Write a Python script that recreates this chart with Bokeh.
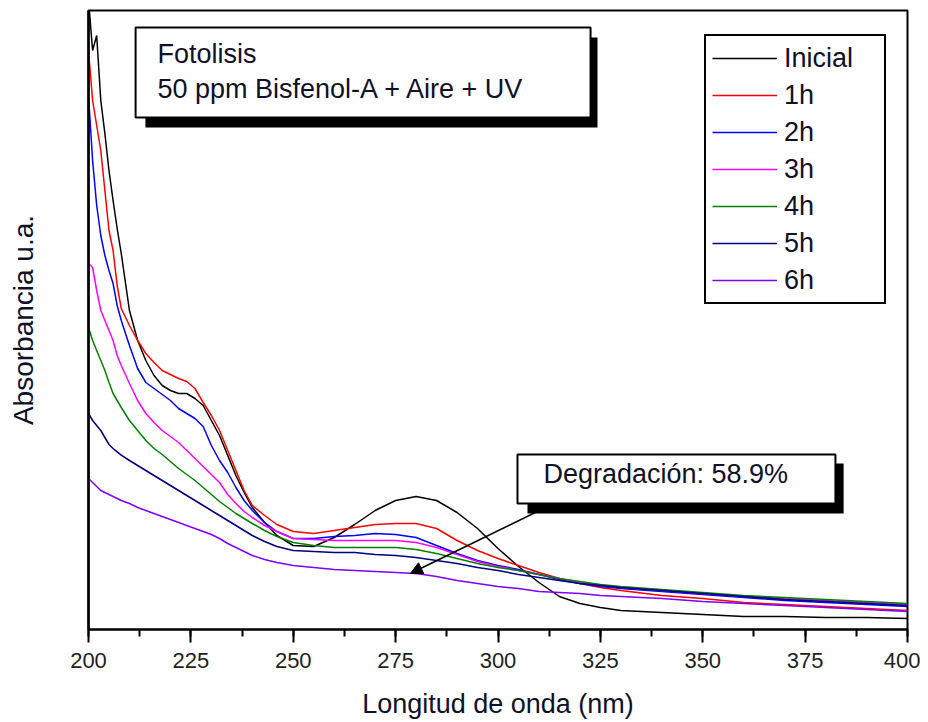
from bokeh.plotting import figure
from bokeh.models import (Legend, LegendItem, Label, BoxAnnotation, Arrow, NormalHead,
                          SingleIntervalTicker, FixedTicker, Range1d)
from bokeh.embed import file_html
from bokeh.resources import INLINE

# ---------------- data ----------------
wavelength = [200, 201, 202, 203, 204, 205, 206, 207, 208, 210, 212, 214, 216, 218, 220,
              222, 224, 226, 228, 230, 232, 234, 236, 238, 240, 243, 246, 250, 255, 260,
              265, 270, 275, 280, 285, 290, 295, 300, 305, 310, 315, 320, 325, 330, 340,
              350, 360, 370, 380, 390, 400]

inicial = [3.150, 2.895, 2.970, 2.645, 2.480, 2.295, 2.145, 2.005, 1.880, 1.595, 1.445, 1.345,
           1.270, 1.220, 1.195, 1.180, 1.180, 1.155, 1.120, 1.045, 0.970, 0.870, 0.770, 0.685,
           0.610, 0.535, 0.470, 0.420, 0.415, 0.460, 0.525, 0.595, 0.645, 0.665, 0.645, 0.585,
           0.505, 0.405, 0.315, 0.235, 0.165, 0.130, 0.110, 0.095, 0.085, 0.075, 0.065, 0.065,
           0.060, 0.060, 0.055]
h1 = [2.895, 2.645, 2.520, 2.395, 2.195, 1.995, 1.895, 1.720, 1.605, 1.520, 1.445, 1.380,
      1.335, 1.295, 1.275, 1.255, 1.240, 1.205, 1.135, 1.070, 0.995, 0.895, 0.795, 0.695,
      0.620, 0.570, 0.525, 0.490, 0.480, 0.495, 0.510, 0.525, 0.530, 0.530, 0.505, 0.445,
      0.395, 0.355, 0.320, 0.285, 0.255, 0.230, 0.210, 0.195, 0.170, 0.155, 0.135, 0.125,
      0.115, 0.105, 0.095]
h2 = [2.670, 2.345, 2.120, 1.970, 1.870, 1.795, 1.730, 1.620, 1.545, 1.420, 1.305, 1.235,
      1.205, 1.175, 1.145, 1.105, 1.080, 1.055, 1.015, 0.920, 0.845, 0.785, 0.710, 0.645,
      0.595, 0.535, 0.490, 0.455, 0.455, 0.465, 0.470, 0.480, 0.475, 0.460, 0.420, 0.380,
      0.345, 0.320, 0.300, 0.275, 0.250, 0.230, 0.215, 0.205, 0.190, 0.175, 0.160, 0.145,
      0.135, 0.125, 0.115]
h3 = [1.830, 1.810, 1.695, 1.595, 1.545, 1.495, 1.445, 1.370, 1.320, 1.230, 1.145, 1.080,
      1.035, 0.995, 0.965, 0.935, 0.895, 0.855, 0.815, 0.775, 0.735, 0.675, 0.630, 0.590,
      0.560, 0.520, 0.490, 0.455, 0.450, 0.445, 0.445, 0.445, 0.445, 0.435, 0.410, 0.375,
      0.340, 0.315, 0.295, 0.275, 0.255, 0.235, 0.220, 0.210, 0.195, 0.180, 0.165, 0.155,
      0.145, 0.135, 0.125]
h4 = [1.510, 1.445, 1.395, 1.345, 1.295, 1.235, 1.180, 1.145, 1.110, 1.045, 0.995, 0.945,
      0.905, 0.875, 0.840, 0.805, 0.775, 0.745, 0.710, 0.675, 0.640, 0.610, 0.580, 0.555,
      0.530, 0.495, 0.465, 0.435, 0.420, 0.410, 0.410, 0.410, 0.410, 0.400, 0.380, 0.355,
      0.330, 0.310, 0.295, 0.275, 0.255, 0.240, 0.225, 0.215, 0.200, 0.185, 0.170, 0.160,
      0.150, 0.140, 0.130]
h5 = [1.080, 1.045, 1.020, 0.995, 0.960, 0.925, 0.905, 0.888, 0.872, 0.845, 0.820, 0.795,
      0.770, 0.745, 0.720, 0.695, 0.670, 0.645, 0.620, 0.595, 0.570, 0.545, 0.520, 0.495,
      0.470, 0.440, 0.415, 0.395, 0.390, 0.385, 0.385, 0.375, 0.370, 0.360, 0.345, 0.330,
      0.310, 0.295, 0.275, 0.260, 0.245, 0.230, 0.220, 0.210, 0.195, 0.180, 0.165, 0.150,
      0.140, 0.130, 0.120]
h6 = [0.755, 0.735, 0.715, 0.695, 0.685, 0.675, 0.665, 0.655, 0.645, 0.630, 0.610, 0.595,
      0.580, 0.565, 0.550, 0.535, 0.520, 0.505, 0.490, 0.475, 0.455, 0.430, 0.410, 0.390,
      0.370, 0.350, 0.335, 0.320, 0.310, 0.300, 0.295, 0.290, 0.285, 0.280, 0.265, 0.245,
      0.230, 0.215, 0.205, 0.190, 0.185, 0.180, 0.170, 0.165, 0.155, 0.140, 0.130, 0.120,
      0.110, 0.100, 0.090]

series_names = ["Inicial", "1h", "2h", "3h", "4h", "5h", "6h"]
series_values = [inicial, h1, h2, h3, h4, h5, h6]
series_colors = ["#000000", "#ff0000", "#0000ff", "#ff00ff", "#008000", "#000080", "#8000ff"]

x_ticks_interval = 25
title_lines = ["Fotolisis", "50 ppm Bisfenol-A + Aire + UV"]
annotation_text = "Degradación: 58.9%"

FONT = "Liberation Sans"
TXT = "#101028"

# ---------------- figure ----------------
p = figure(width=920, height=722, output_backend="svg", toolbar_location=None,
           x_range=Range1d(200, 400), y_range=Range1d(0, 3.095),
           min_border_left=88, min_border_right=13, min_border_top=10, min_border_bottom=93)
p.background_fill_color = "white"
p.border_fill_color = "white"
p.grid.visible = False
p.outline_line_color = "black"
p.outline_line_alpha = 1
p.outline_line_width = 2

# x axis
p.xaxis.ticker = SingleIntervalTicker(interval=x_ticks_interval, num_minor_ticks=2)
p.xaxis.axis_line_width = 2
p.xaxis.major_tick_line_width = 2
p.xaxis.minor_tick_line_width = 2
p.xaxis.major_tick_out = 13
p.xaxis.major_tick_in = 0
p.xaxis.minor_tick_out = 7
p.xaxis.minor_tick_in = 0
p.xaxis.major_label_text_font = FONT
p.xaxis.major_label_text_font_size = "22px"
p.xaxis.major_label_text_color = "#222222"
p.xaxis.major_label_standoff = 10
p.xaxis.axis_label = "Longitud de onda (nm)"
p.xaxis.axis_label_text_font = FONT
p.xaxis.axis_label_text_font_size = "27px"
p.xaxis.axis_label_text_font_style = "normal"
p.xaxis.axis_label_text_color = TXT
p.xaxis.axis_label_standoff = 18

# y axis (no ticks)
p.yaxis.ticker = FixedTicker(ticks=[])
p.yaxis.axis_line_width = 2.5
p.yaxis.major_tick_out = 0
p.yaxis.major_tick_in = 0
p.yaxis.minor_tick_out = 0
p.yaxis.axis_label = "Absorbancia u.a."
p.yaxis.axis_label_text_font = FONT
p.yaxis.axis_label_text_font_size = "28px"
p.yaxis.axis_label_text_font_style = "normal"
p.yaxis.axis_label_text_color = TXT
p.yaxis.axis_label_standoff = 50

# ---------------- curves ----------------
items = []
for name, vals, col in zip(series_names, series_values, series_colors):
    r = p.line(wavelength, vals, line_color=col, line_width=1.5)
    items.append(LegendItem(label=name, renderers=[r]))

legend = Legend(items=items, location=(616, 325), orientation="vertical",
                border_line_color="black", border_line_width=2, border_line_alpha=1,
                background_fill_color="white", background_fill_alpha=1.0,
                label_text_font=FONT, label_text_font_size="27px", label_text_color=TXT,
                glyph_width=65, glyph_height=32, label_height=32, label_width=94,
                label_standoff=7, spacing=5, padding=6, margin=0)
p.add_layout(legend, "center")

# ---------------- title box with shadow ----------------
p.add_layout(BoxAnnotation(left=213.9, right=324.3, bottom=2.51, top=2.96,
                           fill_color="black", fill_alpha=1, line_color=None))
p.add_layout(BoxAnnotation(left=211.5, right=322.6, bottom=2.56, top=3.01,
                           fill_color="white", fill_alpha=1, line_color="black",
                           line_alpha=1, line_width=2))
p.add_layout(Label(x=216.85, y=2.88, text=title_lines[0], text_font=FONT,
                   text_font_size="27px", text_color=TXT, text_baseline="middle"))
p.add_layout(Label(x=216.85, y=2.705, text=title_lines[1], text_font=FONT,
                   text_font_size="27px", text_color=TXT, text_baseline="middle"))

# ---------------- degradation annotation ----------------
p.add_layout(BoxAnnotation(left=307.2, right=384.4, bottom=0.58, top=0.83,
                           fill_color="black", fill_alpha=1, line_color=None))
p.add_layout(BoxAnnotation(left=304.76, right=382.4, bottom=0.63, top=0.875,
                           fill_color="white", fill_alpha=1, line_color="black",
                           line_alpha=1, line_width=2))
p.add_layout(Label(x=311.1, y=0.78, text=annotation_text, text_font=FONT,
                   text_font_size="27px", text_color=TXT, text_baseline="middle"))
p.add_layout(Arrow(x_start=311.6, y_start=0.61, x_end=278.6, y_end=0.28,
                   line_color="black", line_width=1.5,
                   end=NormalHead(size=12, fill_color="black", line_color="black")))

open("out.html", "w").write(file_html(p, INLINE))
